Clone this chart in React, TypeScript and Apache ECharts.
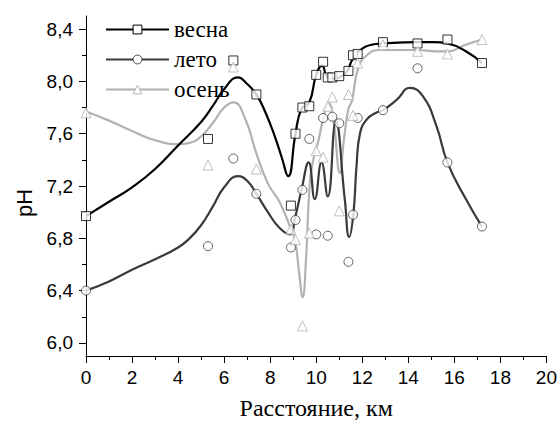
import React, { useEffect, useRef } from 'react';
import * as echarts from 'echarts';

const seasons = ['весна', 'лето', 'осень'];

// measured points
const springX = [0, 5.3, 6.4, 7.4, 8.9, 9.1, 9.4, 9.7, 10.0, 10.3, 10.5, 10.7, 11.0, 11.4, 11.6, 11.8, 12.9, 14.4, 15.7, 17.2];
const springY = [6.97, 7.56, 8.16, 7.90, 7.05, 7.60, 7.80, 7.81, 8.05, 8.15, 8.03, 8.03, 8.04, 8.08, 8.20, 8.21, 8.30, 8.29, 8.32, 8.14];

const summerX = [0, 5.3, 6.4, 7.4, 8.9, 9.1, 9.4, 9.7, 10.0, 10.3, 10.5, 10.7, 11.0, 11.4, 11.6, 11.8, 12.9, 14.4, 15.7, 17.2];
const summerY = [6.40, 6.74, 7.41, 7.14, 6.73, 6.94, 7.17, 7.56, 6.83, 7.72, 6.82, 7.73, 7.68, 6.62, 6.98, 7.72, 7.78, 8.10, 7.38, 6.89];

const autumnX = [0, 5.3, 6.4, 7.4, 8.9, 9.1, 9.4, 9.7, 10.0, 10.3, 10.5, 10.7, 11.0, 11.4, 11.6, 11.8, 12.9, 14.4, 15.7, 17.2];
const autumnY = [7.76, 7.36, 8.11, 7.33, 6.87, 6.79, 6.13, 6.84, 7.47, 7.42, 7.81, 7.88, 7.01, 7.90, 7.74, 8.14, 8.28, 8.23, 8.21, 8.32];

// fitted curves
const springCurveX = [0, 1, 2, 3, 4, 5, 5.5, 6.0, 6.6, 7.0, 7.4, 7.8, 8.2, 8.5, 8.78, 9.1, 9.36, 9.7, 10.0, 10.25, 10.5, 10.75, 11.1, 11.35, 11.55, 11.85, 12.4, 12.9, 14.4, 15.1, 15.7, 16.5, 17.2];
const springCurveY = [6.97, 7.08, 7.19, 7.33, 7.51, 7.69, 7.81, 7.94, 8.03, 7.98, 7.90, 7.76, 7.58, 7.42, 7.275, 7.60, 7.79, 7.84, 8.05, 8.12, 8.03, 8.02, 8.04, 8.08, 8.16, 8.23, 8.28, 8.29, 8.30, 8.30, 8.29, 8.23, 8.14];

const summerCurveX = [0, 1, 2, 3, 4, 4.5, 5.0, 5.5, 6.0, 6.6, 7.0, 7.4, 7.9, 8.4, 8.86, 9.07, 9.36, 9.67, 9.94, 10.23, 10.5, 10.85, 11.24, 11.43, 11.61, 11.75, 11.9, 12.2, 12.6, 12.9, 13.5, 14.07, 14.64, 15.22, 15.7, 16.5, 17.2];
const summerCurveY = [6.40, 6.47, 6.56, 6.64, 6.73, 6.80, 6.90, 7.04, 7.19, 7.275, 7.24, 7.14, 7.00, 6.88, 6.83, 6.95, 7.17, 7.38, 7.10, 7.38, 7.12, 7.69, 7.10, 6.81, 6.98, 7.35, 7.60, 7.71, 7.76, 7.78, 7.86, 7.95, 7.885, 7.66, 7.38, 7.10, 6.89];

const autumnCurveX = [0, 1, 2, 3, 4, 4.5, 5.0, 5.5, 6.0, 6.4, 6.9, 7.4, 7.9, 8.4, 8.86, 9.07, 9.25, 9.41, 9.55, 9.72, 9.87, 10.1, 10.35, 10.55, 10.75, 11.03, 11.2, 11.4, 11.55, 11.82, 12.2, 12.76, 13.5, 14.4, 15.2, 15.7, 16.5, 17.2];
const autumnCurveY = [7.77, 7.70, 7.62, 7.55, 7.52, 7.53, 7.58, 7.68, 7.80, 7.84, 7.72, 7.45, 7.22, 7.08, 6.89, 6.79, 6.55, 6.35, 6.62, 7.22, 7.40, 7.55, 7.75, 7.83, 7.70, 7.30, 7.55, 7.79, 7.85, 8.10, 8.20, 8.24, 8.24, 8.24, 8.23, 8.23, 8.28, 8.32];

const yMajorTicks = [6.0, 6.4, 6.8, 7.2, 7.6, 8.0, 8.4];
const yMinorTicks = [6.2, 6.6, 7.0, 7.4, 7.8, 8.2];

const zip = (xs: number[], ys: number[]) => xs.map((x, i) => [x, ys[i]]);

export default function App() {
  const ref = useRef<HTMLDivElement>(null);
  useEffect(() => {
    const chart = echarts.init(ref.current!, null, { renderer: 'svg' });
    const sans = '"Liberation Sans", Arial, sans-serif';
    const serif = '"Liberation Serif", "Times New Roman", serif';
    const colors = ['#000000', '#3a3a3a', '#b2b2b2'];
    const symbols = ['rect', 'circle', 'triangle'];
    const sizes = [9, 9, 10];
    const curves = [
      zip(springCurveX, springCurveY),
      zip(summerCurveX, summerCurveY),
      zip(autumnCurveX, autumnCurveY),
    ];
    const points = [zip(springX, springY), zip(summerX, summerY), zip(autumnX, autumnY)];
    const series: any[] = [];
    seasons.forEach((name, i) => {
      series.push({
        type: 'line',
        name,
        data: curves[i],
        smooth: 0.5,
        symbol: symbols[i],
        symbolSize: sizes[i],
        showSymbol: false,
        lineStyle: { color: colors[i], width: 2.2 },
        itemStyle: { color: '#fff', borderColor: colors[i], borderWidth: 1 },
        z: 2 + (2 - i) * 0.1,
      });
    });
    seasons.forEach((name, i) => {
      series.push({
        type: 'scatter',
        name,
        data: points[i],
        symbol: symbols[i],
        symbolSize: sizes[i],
        itemStyle: { color: '#fff', borderColor: colors[i], borderWidth: 1 },
        z: 3,
      });
    });
    chart.setOption({
      animation: false,
      backgroundColor: '#fff',
      grid: { left: 86, right: 13.3, top: 16, bottom: 68 },
      legend: {
        data: seasons,
        orient: 'vertical',
        left: 100,
        top: 13,
        itemWidth: 63,
        itemHeight: 11,
        itemGap: 7,
        itemStyle: { borderWidth: 1 },
        textStyle: { fontFamily: serif, fontSize: 23, color: '#000' },
      },
      xAxis: {
        type: 'value',
        min: 0,
        max: 20,
        interval: 2,
        axisLine: { lineStyle: { color: '#000', width: 1 } },
        axisTick: { length: 7, lineStyle: { color: '#000' } },
        minorTick: { show: true, splitNumber: 2, length: 4, lineStyle: { color: '#000' } },
        axisLabel: { fontFamily: sans, fontSize: 19, color: '#000', margin: 12 },
        splitLine: { show: false },
        minorSplitLine: { show: false },
        name: 'Расстояние, км',
        nameLocation: 'middle',
        nameGap: 40,
        nameTextStyle: { fontFamily: serif, fontSize: 24, color: '#000' },
      },
      yAxis: [
        {
          type: 'value',
          min: 5.9,
          max: 8.5,
          axisLine: { show: true, lineStyle: { color: '#000', width: 1 } },
          axisTick: { show: true, customValues: yMajorTicks, length: 7, lineStyle: { color: '#000' } },
          axisLabel: {
            customValues: yMajorTicks,
            formatter: (v: number) => v.toFixed(1).replace('.', ','),
            fontFamily: sans,
            fontSize: 19,
            color: '#000',
            margin: 13,
          },
          splitLine: { show: false },
        },
        {
          type: 'value',
          min: 5.9,
          max: 8.5,
          position: 'left',
          axisLine: { show: false },
          axisTick: { show: true, customValues: yMinorTicks, length: 4, lineStyle: { color: '#000' } },
          axisLabel: { show: false },
          splitLine: { show: false },
        },
      ],
      graphic: [
        {
          type: 'text',
          x: 24,
          y: 203,
          rotation: Math.PI / 2,
          style: {
            text: 'pH',
            fontFamily: sans,
            fontSize: 22,
            fill: '#000',
            align: 'center',
            verticalAlign: 'middle',
          },
        },
      ],
      series,
    });
    return () => chart.dispose();
  }, []);
  return (
    <div
      ref={ref}
      style={{ position: 'fixed', left: 0, top: 0, width: 560, height: 425, background: '#fff' }}
    />
  );
}
